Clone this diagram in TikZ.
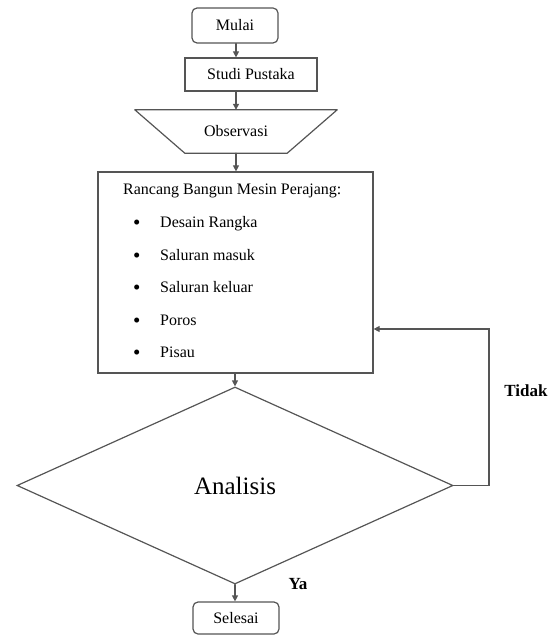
\documentclass[tikz,border=0pt]{standalone}
\usepackage{fontspec}
\setmainfont{Liberation Serif}
\usetikzlibrary{shapes.geometric,arrows.meta}
\definecolor{linegray}{RGB}{85, 85, 85}
\def\itemx{133}
\newcommand{\butirtanda}{\makebox[27pt][l]{\raisebox{-2pt}{\fontsize{21}{18}\selectfont\textbullet}}}
\tikzset{
  box/.style={draw=linegray, line width=1.2pt, minimum width=#1, inner sep=0pt},
  flow/.style={draw=linegray, line width=1.2pt, -{Triangle[length=6pt,width=6pt]}},
  txt/.style={inner sep=0pt, anchor=west, font=\fontsize{16}{18}\selectfont},
  answer/.style={inner sep=0pt, font=\fontsize{17}{18}\selectfont\bfseries}
}
\begin{document}
\begin{tikzpicture}[x=1pt, y=-1pt, line cap=round]

  \useasboundingbox (0,0) rectangle (552,636);

  \node[box=86pt, minimum height=35pt, rounded corners=5pt, font=\fontsize{16}{18}\selectfont]
    (mulai) at (235,25.5) {Mulai};
  \node[box=132pt, minimum height=33pt, font=\fontsize{16}{18}\selectfont]
    (studi) at (251,74.5) {Studi Pustaka\hspace{30pt}};

  \node[minimum width=102pt, minimum height=43pt, inner sep=0pt, font=\fontsize{16}{18}\selectfont]
    (obs) at (236,131.5) {Observasi};
  \draw[linegray, line width=1.2pt, line join=round]
    ([xshift=-50pt]obs.north west) -- ([xshift=50pt]obs.north east) --
    (obs.south east) -- (obs.south west) -- cycle;

  \node[box=275pt, minimum height=201pt] (rancang) at (235.5,272.5) {};
  \node[txt] (judul) at (123,191) {Rancang Bangun Mesin Perajang:};
  \node[txt] (desain) at (\itemx,224) {\butirtanda Desain Rangka};
  \node[txt] (masuk) at (\itemx,256) {\butirtanda Saluran masuk};
  \node[txt] (keluar) at (\itemx,288) {\butirtanda Saluran keluar};
  \node[txt] (poros) at (\itemx,321) {\butirtanda Poros};
  \node[txt] (pisau) at (\itemx,353) {\butirtanda Pisau};

  \node[draw=linegray, line width=1.2pt, diamond, aspect=2.21, inner sep=0pt,
        minimum width=436pt, minimum height=197pt, font=\fontsize{25}{28}\selectfont]
    (analisis) at (235,485.5) {Analisis};

  \node[box=86pt, minimum height=32pt, rounded corners=5pt, font=\fontsize{16}{18}\selectfont]
    (selesai) at (236,618) {Selesai};

  \draw[flow] (mulai.south -| 236,0) -- (studi.north -| 236,0);
  \draw[flow] (studi.south -| 236,0) -- (obs.north);
  \draw[flow] (obs.south) -- (rancang.north -| obs.south);
  \draw[flow] (rancang.south -| analisis.north) -- (analisis.north);
  \draw[flow] (analisis.south) -- (selesai.north -| analisis.south);

  \coordinate (balik) at (489,329);
  \draw[flow] (analisis.east) -| (balik) -- (rancang.east |- balik);

  \node[answer] (tidak) at (526,391) {Tidak};
  \node[answer] (ya) at (298,584) {Ya};

\end{tikzpicture}
\end{document}
